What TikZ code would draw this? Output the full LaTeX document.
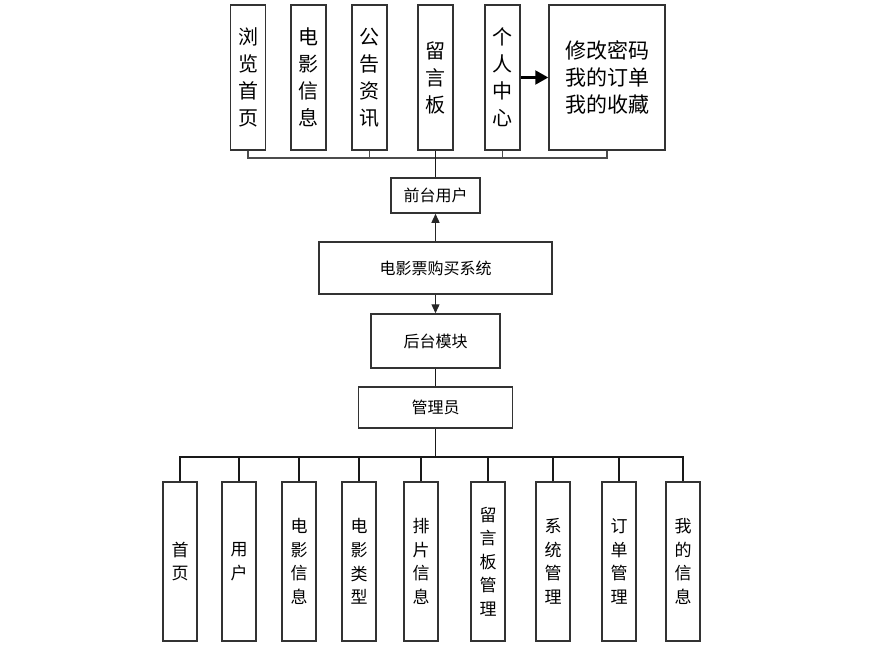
\documentclass[tikz,border=0pt]{standalone}
\usepackage{fontspec}
\newfontfamily\cjk{Noto Sans CJK SC}
\usepackage{tikz}
\usetikzlibrary{arrows.meta, positioning}
\tikzset{
  boxnode/.style={draw=black!80,line width=1.5pt,rectangle,inner sep=1pt,align=center,fill=white},
  topnode/.style={boxnode,minimum width=35,minimum height=145,font=\cjk\fontsize{20}{27}\selectfont},
  midnode/.style={boxnode,font=\cjk\fontsize{16}{20}\selectfont},
  lownode/.style={boxnode,minimum width=34,minimum height=159,font=\cjk\fontsize{17}{23.5}\selectfont},
  busline/.style={line width=1.3pt,black!70},
  upedge/.style={line width=1.3pt,black!85,-{Triangle[length=9pt,width=8pt]}},
  bigedge/.style={line width=2.2pt,black,-{Triangle[length=13pt,width=14pt]}},
}
\begin{document}
\begin{tikzpicture}[x=1pt,y=-1pt]
  \useasboundingbox (0,0) rectangle (880,653);
  % front-end modules
  \node[topnode] (nBrowse) at (248,77.5) {浏\\览\\首\\页};
  \node[topnode] (nFilm) at (308.5,77.5) {电\\影\\信\\息};
  \node[topnode] (nNotice) at (369.5,77.5) {公\\告\\资\\讯};
  \node[topnode] (nMsg) at (435.5,77.5) {留\\言\\板};
  \node[topnode] (nCenter) at (502.5,77.5) {个\\人\\中\\心};
  \node[topnode,minimum width=116,font=\cjk\fontsize{21}{27}\selectfont] (nMine) at (607,77.5) {修改密码\\我的订单\\我的收藏};
  \draw[bigedge] (nCenter) -- (nMine);
  % middle chain
  \node[midnode,minimum width=89,minimum height=35] (nFront) at (435.5,195.5) {前台用户};
  \node[midnode,minimum width=233,minimum height=52] (nSys) at (435.5,268) {电影票购买系统};
  \node[midnode,minimum width=129,minimum height=54] (nBack) at (435.5,341) {后台模块};
  \node[midnode,minimum width=154,minimum height=41] (nAdmin) at (435.5,407.5) {管理员};
  \coordinate (tBus) at (435.5,158);
  \draw[busline] (nBrowse.south) |- (tBus) -| (nMine.south);
  \draw[busline] (nNotice.south) -- (nNotice.south |- tBus);
  \draw[busline] (nCenter.south) -- (nCenter.south |- tBus);
  \draw[busline,black!90] (nMsg.south) -- (nFront.north);
  \draw[upedge] (nSys) -- (nFront);
  \draw[upedge] (nSys) -- (nBack);
  \draw[busline,black!90] (nBack) -- (nAdmin);
  % back-end modules
  \node[lownode] (nHome) at (180,561.5) {首\\页};
  \node[lownode] (nUser) at (239,561.5) {用\\户};
  \node[lownode] (nInfo) at (299,561.5) {电\\影\\信\\息};
  \node[lownode] (nType) at (359,561.5) {电\\影\\类\\型};
  \node[lownode] (nPlan) at (421,561.5) {排\\片\\信\\息};
  \node[lownode] (nBoard) at (488,561.5) {留\\言\\板\\管\\理};
  \node[lownode] (nSysm) at (553,561.5) {系\\统\\管\\理};
  \node[lownode] (nOrder) at (619,561.5) {订\\单\\管\\理};
  \node[lownode] (nSelf) at (683,561.5) {我\\的\\信\\息};
  \coordinate (bBus) at (435.5,457);
  \draw[busline,black!90] (nAdmin.south) -- (bBus);
  \draw[busline,black!90] (nHome.north) |- (bBus) -| (nSelf.north);
  \draw[busline,black!90] (nUser.north) -- (nUser.north |- bBus);
  \draw[busline,black!90] (nInfo.north) -- (nInfo.north |- bBus);
  \draw[busline,black!90] (nType.north) -- (nType.north |- bBus);
  \draw[busline,black!90] (nPlan.north) -- (nPlan.north |- bBus);
  \draw[busline,black!90] (nBoard.north) -- (nBoard.north |- bBus);
  \draw[busline,black!90] (nSysm.north) -- (nSysm.north |- bBus);
  \draw[busline,black!90] (nOrder.north) -- (nOrder.north |- bBus);
\end{tikzpicture}
\end{document}
